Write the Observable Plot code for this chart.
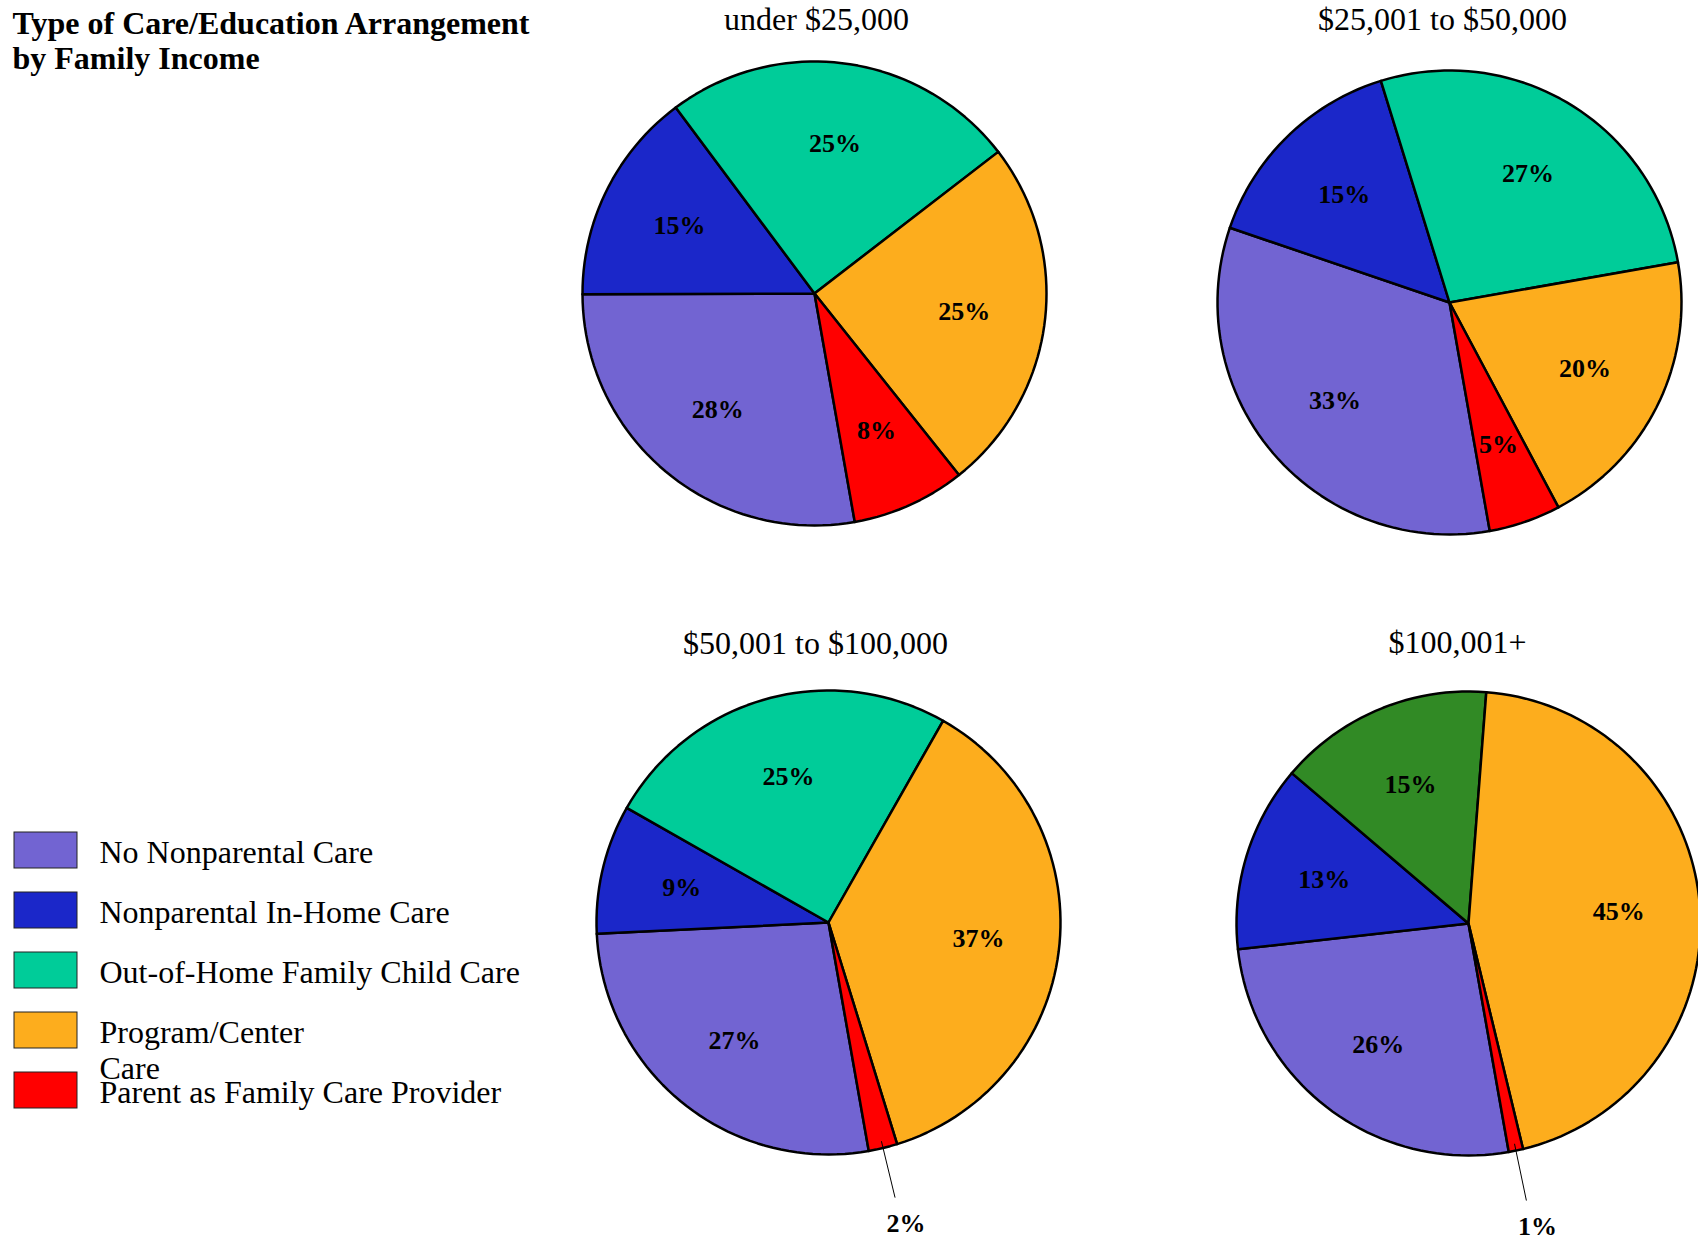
<!DOCTYPE html>
<html>
<head>
<meta charset="utf-8">
<script src="https://cdn.jsdelivr.net/npm/d3@7"></script>
<script src="https://cdn.jsdelivr.net/npm/@observablehq/plot@0.6"></script>
<style>
  html, body { margin: 0; padding: 0; background: #fff; }
  #chart svg { display: block; }
</style>
</head>
<body>
<div id="chart"></div>
<script>
// ---------------- DATA ----------------
const chartTitle = "Type of Care/Education Arrangement\nby Family Income";
const categories = [
  "No Nonparental Care",
  "Nonparental In-Home Care",
  "Out-of-Home Family Child Care",
  "Program/Center Care",
  "Parent as Family Care Provider"
];
const legendLabels = [
  "No Nonparental Care",
  "Nonparental In-Home Care",
  "Out-of-Home Family Child Care",
  "Program/Center\nCare",
  "Parent as Family Care Provider"
];
const incomeGroups = ["under $25,000", "$25,001 to $50,000", "$50,001 to $100,000", "$100,001+"];
const under25k      = [28, 15, 25, 25, 8];
const from25kTo50k  = [33, 15, 27, 20, 5];
const from50kTo100k = [27,  9, 25, 37, 2];
const over100k      = [26, 13, 15, 45, 1];
const seriesByGroup = [under25k, from25kTo50k, from50kTo100k, over100k];

// ---------------- STYLE ----------------
const colors = ["#7264d2", "#1b27c9", "#00cc99", "#fdad1d", "#ff0000"];
const altColor = "#318a25";
const altSlice = {group: "$100,001+", category: "Out-of-Home Family Child Care"};
const altKey = altSlice.category + " (" + altSlice.group + ")";
const fontFamily = "'Liberation Serif', 'Times New Roman', Times, serif";

// ---------------- LAYOUT ----------------
const W = 1698, H = 1249;
const panels = [
  {cx: 814,  cy: 293, r: 232, tx: 816,  ty: 29},
  {cx: 1449, cy: 302, r: 232, tx: 1442, ty: 29},
  {cx: 828,  cy: 922, r: 232, tx: 815,  ty: 653},
  {cx: 1468, cy: 923, r: 232, tx: 1457, ty: 652}
];
const startDeg = 170;
const legendTop = 832, legendStep = 60, legendH = 36;
const outsideLabelOffset = {dx: 11, dy: 26};
const rad = Math.PI / 180;

// ---------------- GEOMETRY ----------------
const vertices = [], labels = [], leaders = [];
seriesByGroup.forEach((values, p) => {
  const {cx, cy, r} = panels[p];
  const pt = (ang, rr) => ({x: cx + rr * Math.sin(ang), y: cy - rr * Math.cos(ang)});
  const arcs = d3.pie().sort(null)
    .startAngle(startDeg * rad).endAngle((startDeg + 360) * rad)(values);
  arcs.forEach((a, s) => {
    const id = p + "-" + s;
    const key = (incomeGroups[p] === altSlice.group && categories[s] === altSlice.category) ? altKey : categories[s];
    vertices.push({id, key, ...pt(0, 0)});
    const n = Math.max(2, Math.ceil((a.endAngle - a.startAngle) / (2 * rad)));
    for (let k = 0; k <= n; k++) {
      const ang = a.startAngle + (a.endAngle - a.startAngle) * k / n;
      vertices.push({id, key, ...pt(ang, r)});
    }
    const mid = (a.startAngle + a.endAngle) / 2;
    if (a.data < 3) {
      const p1 = pt(mid, 0.97 * r), p2 = pt(mid, 1.22 * r);
      leaders.push({x1: p1.x, y1: p1.y, x2: p2.x, y2: p2.y});
      labels.push({text: a.data + "%", x: p2.x + outsideLabelOffset.dx, y: p2.y + outsideLabelOffset.dy});
    } else {
      labels.push({text: a.data + "%", ...pt(mid, 0.65 * r)});
    }
  });
});

// ---------------- CHART ----------------
const chart = Plot.plot({
  width: W,
  height: H,
  margin: 0,
  x: {domain: [0, W], range: [0, W], axis: null},
  y: {domain: [0, H], range: [0, H], axis: null},
  color: {domain: [...categories, altKey], range: [...colors, altColor]},
  style: {fontFamily, background: "#fff", color: "#000", overflow: "hidden"},
  marks: [
    Plot.line(vertices, {
      x: "x", y: "y", z: "id", fill: "key",
      stroke: "#000", strokeWidth: 2.5, curve: "linear-closed", strokeLinejoin: "round"
    }),
    Plot.link(leaders, {x1: "x1", y1: "y1", x2: "x2", y2: "y2", stroke: "#000", strokeWidth: 1}),
    Plot.text(labels, {
      x: "x", y: "y", text: "text", fontSize: 26, fontWeight: "bold", fill: "#000"
    }),
    Plot.text(incomeGroups, {
      x: (d, i) => panels[i].tx, y: (d, i) => panels[i].ty, text: d => d,
      fontSize: 32, lineAnchor: "bottom", fill: "#000"
    }),
    Plot.text([chartTitle], {
      x: () => 12, y: () => 8, text: d => d, fontSize: 32, fontWeight: "bold",
      textAnchor: "start", lineAnchor: "top", lineHeight: 1.1, fill: "#000"
    }),
    Plot.rect(categories, {
      x1: () => 14, x2: () => 77,
      y1: (d, i) => legendTop + i * legendStep,
      y2: (d, i) => legendTop + i * legendStep + legendH,
      fill: d => d, stroke: "#222", strokeWidth: 1
    }),
    Plot.text(legendLabels, {
      x: () => 99, y: (d, i) => legendTop + i * legendStep + legendH / 2, text: d => d,
      fontSize: 32, textAnchor: "start", lineAnchor: "top", lineHeight: 1.125, dy: -13.5, fill: "#000"
    })
  ]
});
document.getElementById("chart").append(chart);
</script>
</body>
</html>
